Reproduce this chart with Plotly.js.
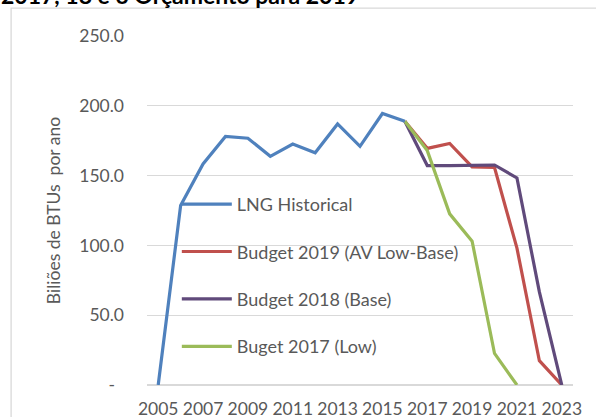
<!DOCTYPE html>
<html><head><meta charset="utf-8">
<script src="https://cdn.plot.ly/plotly-3.0.1.min.js"></script>
<style>html,body{margin:0;padding:0;background:#fff}#chart{width:596px;height:417px}</style>
</head><body><div id="chart"></div>
<script>
const years = [2005,2006,2007,2008,2009,2010,2011,2012,2013,2014,2015,2016];
const lngHistorical = [0,128.5,158.4,178,176.8,163.8,172.6,166.3,187,171,194.5,189];
const projYears = [2016,2017,2018,2019,2020,2021,2022,2023];
const budget2019 = [189,169.5,173,156.2,155.8,98,17.4,0];
const budget2018 = [189,157.2,157.2,157.2,157.6,148.3,66.7,0];
const budget2017Years = [2016,2017,2018,2019,2020,2021];
const budget2017 = [189,167.9,122.6,103,22.6,0];
const seriesNames = ["LNG Historical","Budget 2019 (AV Low-Base)","Budget 2018 (Base)","Buget 2017 (Low)"];
const yTickVals = [0,50,100,150,200,250];
const yTickText = ["-\u00a0\u00a0","50.0","100.0","150.0","200.0","250.0"];
const xTickVals = [2005,2007,2009,2011,2013,2015,2017,2019,2021,2023];
const titleText = "2017, 18 e o Orçamento para 2019";
const yTitle = "Biliões de BTUs  por ano";

const FONT = "Lato, 'Open Sans', sans-serif";
const colors = ["#4f81bd","#c0504d","#604a7b","#9bbb59"];
const mk = (x,y,i)=>({x:x,y:y,name:seriesNames[i],type:"scatter",mode:"lines",
  line:{color:colors[i],width:3.2},legendgroup:"g"+i});
const data = [
  mk(projYears,budget2019,1),
  mk(projYears,budget2018,2),
  mk(budget2017Years,budget2017,3),
  mk(years,lngHistorical,0)
];
data[3].legendrank = 1; data[0].legendrank = 2; data[1].legendrank = 3; data[2].legendrank = 4;

const layout = {
  width:596,height:417,
  margin:{l:147,r:23,t:36,b:32},
  paper_bgcolor:"#fff",plot_bgcolor:"#fff",
  font:{family:FONT,color:"#595959",size:17.5},
  showlegend:true,
  legend:{x:0.07,y:0.314,xanchor:"left",yanchor:"middle",bgcolor:"rgba(0,0,0,0)",
    traceorder:"grouped",tracegroupgap:21,font:{size:18,color:"#595959"},itemwidth:50},
  xaxis:{range:[2004.5,2023.5],tickvals:xTickVals,showgrid:false,zeroline:false,
    showline:false,ticks:"",ticklabelstandoff:11,tickfont:{size:17.5,color:"#595959"},fixedrange:true},
  yaxis:{range:[0,250],tickvals:yTickVals,ticktext:yTickText,showgrid:true,gridcolor:"#d9d9d9",
    gridwidth:1.3,zeroline:true,zerolinecolor:"#d9d9d9",zerolinewidth:1.3,showline:false,ticks:"",
    ticklabelstandoff:22,tickfont:{size:17.5,color:"#595959"},
    title:{text:yTitle,font:{size:17.5,color:"#595959"},standoff:14},fixedrange:true},
  shapes:[{type:"rect",xref:"paper",yref:"paper",x0:-0.319,x1:1.07,y0:-0.12,y1:1.08,
    line:{color:"#d9d9d9",width:1.3},fillcolor:"rgba(0,0,0,0)",layer:"below"}],
  annotations:[{text:"<b>"+titleText+"</b>",xref:"paper",yref:"paper",x:-0.347,y:1.071,
    xanchor:"left",yanchor:"bottom",showarrow:false,font:{size:23,color:"#000",family:FONT}}]
};
Plotly.newPlot("chart",data,layout,{displayModeBar:false,staticPlot:true});
</script></body></html>
